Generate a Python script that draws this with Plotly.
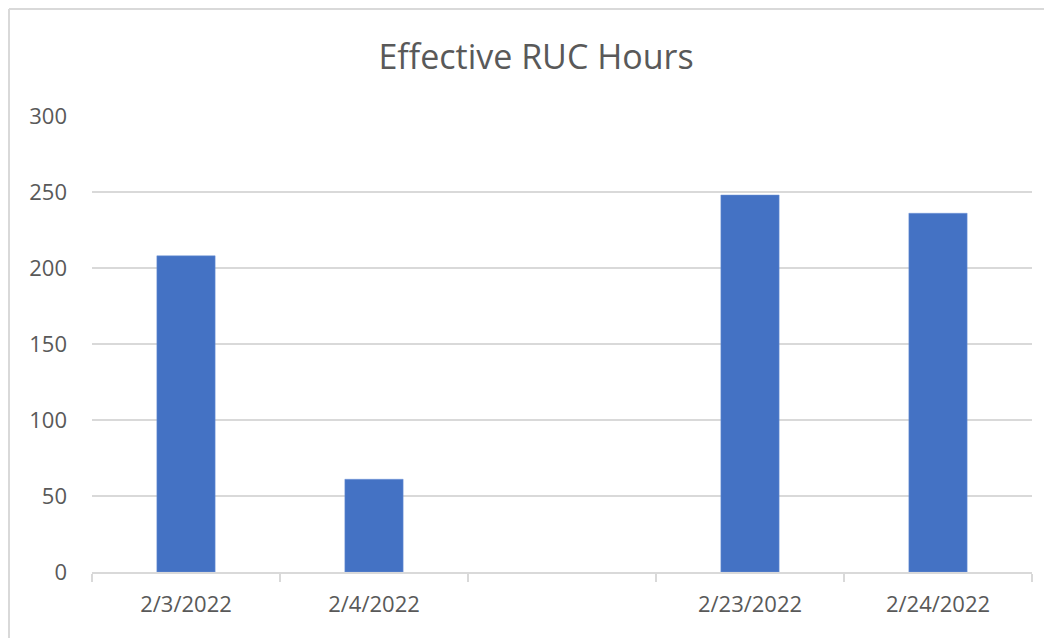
import plotly.graph_objects as go

categories = ["2/3/2022", "2/4/2022", " ", "2/23/2022", "2/24/2022"]
values = [208, 61, None, 248, 236]
y_ticks = [0, 50, 100, 150, 200, 250, 300]
title_text = "Effective RUC Hours"

# page has an 8px body margin, so the figure is sized/offset to compensate
W, H = 1044, 630
L, R, T, B = 84, 20, 108, 66
pw, ph = W - L - R, H - T - B

def px_x(x):
    return (x - L) / pw

def px_y(y):
    return (H - B - y) / ph

fig = go.Figure()
fig.add_trace(go.Bar(
    x=categories, y=values,
    marker=dict(color="#4472C4", line=dict(color="#6f93d6", width=0.5)),
    width=0.31,
))

fig.update_layout(
    width=W, height=H,
    margin=dict(l=L, r=R, t=T, b=B),
    paper_bgcolor="white", plot_bgcolor="white",
    showlegend=False,
    font=dict(family="Open Sans", color="#595959"),
    title=dict(text=title_text, x=(536 - 8) / W, xref="container", xanchor="center",
               y=1 - (57 - 8) / H, yref="container", yanchor="middle",
               font=dict(size=34, color="#595959", family="Open Sans")),
    bargap=0.69,
)
fig.update_xaxes(
    type="category",
    categoryorder="array", categoryarray=categories,
    showline=True, linecolor="#d9d9d9", linewidth=1.5,
    ticks="outside", tickson="boundaries", ticklen=8, tickcolor="#d9d9d9", tickwidth=1.5,
    tickfont=dict(size=22, color="#595959"),
    ticklabelstandoff=12,
    showgrid=False, zeroline=False,
)
fig.update_yaxes(
    range=[0, 300], tickvals=y_ticks,
    showgrid=True, gridcolor="#d9d9d9", gridwidth=1.5,
    zeroline=False, showline=False, ticks="",
    tickfont=dict(size=22, color="#595959"),
    ticklabelstandoff=24,
)
# chart border (Excel chart area outline)
fig.add_shape(type="line", xref="paper", yref="paper",
              x0=px_x(1), x1=px_x(W + 5), y0=px_y(1), y1=px_y(1),
              line=dict(color="#d9d9d9", width=2))
fig.add_shape(type="line", xref="paper", yref="paper",
              x0=px_x(1), x1=px_x(1), y0=px_y(1), y1=px_y(H + 5),
              line=dict(color="#d9d9d9", width=2))

fig.write_html("out.html")
